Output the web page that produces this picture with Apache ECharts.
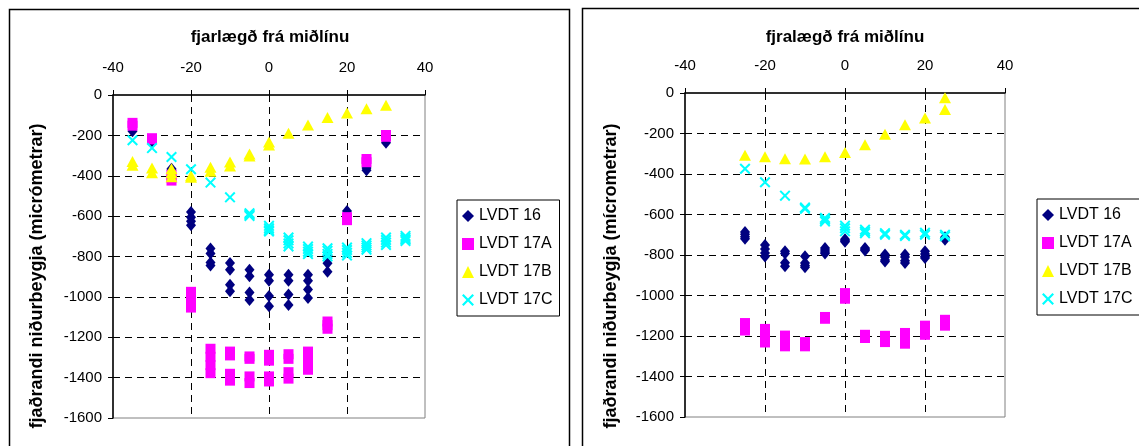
<!DOCTYPE html>
<html>
<head>
<meta charset="utf-8">
<style>
  html, body { margin: 0; padding: 0; background: #fff; }
  #chart { width: 1139px; height: 446px; }
</style>
<script src="https://cdn.jsdelivr.net/npm/echarts@6/dist/echarts.min.js"></script>
</head>
<body>
<div id="chart"></div>
<script>
// Measured deflection (micrometres) at each distance from the centreline.
// Each entry is [distance, deflection]; several readings per station.

const seriesNames = ['LVDT 16', 'LVDT 17A', 'LVDT 17B', 'LVDT 17C'];
const xTicks = [-40, 40, 20];      // min, max, step
const yTicks = [-1600, 0, 200];    // min, max, step

// ---- left panel ----
const leftLvdt16 = [
  [-35, -180], [-30, -230], [-25, -365], [-25, -372],
  [-20, -580], [-20, -605], [-20, -625], [-20, -645],
  [-15, -760], [-15, -785], [-15, -830], [-15, -845],
  [-10, -832], [-10, -866], [-10, -940], [-10, -972],
  [-5, -866], [-5, -898], [-5, -978], [-5, -1016],
  [0, -890], [0, -920], [0, -996], [0, -1046],
  [5, -890], [5, -920], [5, -988], [5, -1040],
  [10, -890], [10, -920], [10, -963], [10, -1005],
  [15, -795], [15, -833], [15, -876],
  [20, -575], [25, -362], [25, -373], [30, -237]
];
const leftLvdt17A = [
  [-35, -138], [-35, -152], [-30, -214], [-30, -220],
  [-25, -395], [-25, -410], [-25, -424],
  [-20, -975], [-20, -1000], [-20, -1027], [-20, -1053],
  [-15, -1257], [-15, -1297], [-15, -1338], [-15, -1378],
  [-10, -1271], [-10, -1290], [-10, -1381], [-10, -1415],
  [-5, -1295], [-5, -1307], [-5, -1394], [-5, -1427],
  [0, -1287], [0, -1316], [0, -1394], [0, -1419],
  [5, -1284], [5, -1307], [5, -1373], [5, -1405],
  [10, -1271], [10, -1300], [10, -1331], [10, -1361],
  [15, -1122], [15, -1140], [15, -1158],
  [20, -605], [20, -620], [25, -317], [25, -333], [30, -198], [30, -207]
];
const leftLvdt17B = [
  [-35, -330], [-35, -348], [-30, -362], [-30, -385],
  [-25, -365], [-25, -385], [-25, -405], [-20, -400], [-20, -408],
  [-15, -358], [-15, -378], [-10, -332], [-10, -352],
  [-5, -292], [-5, -302], [0, -233], [0, -248],
  [5, -190], [10, -148], [15, -111], [20, -89], [25, -68], [30, -51]
];
const leftLvdt17C = [
  [-35, -224], [-30, -263], [-25, -307], [-20, -368], [-15, -434], [-10, -507],
  [-5, -586], [-5, -593], [-5, -599],
  [0, -648], [0, -660], [0, -670], [0, -676],
  [5, -706], [5, -720], [5, -735], [5, -750],
  [10, -751], [10, -763], [10, -776], [10, -788],
  [15, -759], [15, -772], [15, -787], [15, -800],
  [20, -756], [20, -768], [20, -782], [20, -795],
  [25, -734], [25, -745], [25, -756], [25, -766],
  [30, -706], [30, -718], [30, -731], [30, -743],
  [35, -698], [35, -708], [35, -716], [35, -723]
];

// ---- right panel ----
const rightLvdt16 = [
  [-25, -686], [-25, -698], [-25, -710], [-25, -720],
  [-20, -750], [-20, -770], [-20, -790], [-20, -807],
  [-15, -782], [-15, -792], [-15, -838], [-15, -856],
  [-10, -806], [-10, -840], [-10, -852], [-10, -860],
  [-5, -765], [-5, -775], [-5, -785], [-5, -792],
  [0, -722], [0, -730], [0, -735],
  [5, -765], [5, -772], [5, -778],
  [10, -798], [10, -810], [10, -825], [10, -832],
  [15, -798], [15, -810], [15, -828], [15, -840],
  [20, -782], [20, -795], [20, -808], [20, -815],
  [25, -712], [25, -725]
];
const rightLvdt17A = [
  [-25, -1136], [-25, -1150], [-25, -1162], [-25, -1173],
  [-20, -1165], [-20, -1187], [-20, -1210], [-20, -1232],
  [-15, -1198], [-15, -1216], [-15, -1235], [-15, -1251],
  [-10, -1230], [-10, -1242], [-10, -1251],
  [-5, -1106], [-5, -1115],
  [0, -988], [0, -1002], [0, -1016],
  [5, -1194], [5, -1202], [5, -1210],
  [10, -1199], [10, -1212], [10, -1222], [10, -1230],
  [15, -1185], [15, -1203], [15, -1222], [15, -1238],
  [20, -1149], [20, -1165], [20, -1180], [20, -1194],
  [25, -1120], [25, -1135], [25, -1149]
];
const rightLvdt17B = [
  [-25, -308], [-20, -315], [-15, -325], [-10, -326], [-5, -315],
  [0, -294], [5, -255], [10, -204], [15, -157], [20, -124], [25, -23], [25, -82]
];
const rightLvdt17C = [
  [-25, -374], [-20, -441], [-15, -507], [-10, -566], [-10, -572],
  [-5, -617], [-5, -626], [-5, -634],
  [0, -655], [0, -668], [0, -683],
  [5, -675], [5, -684], [5, -692],
  [10, -692], [10, -700], [15, -700], [15, -706],
  [20, -690], [20, -700], [25, -700], [25, -708]
];

const xTitles = ['fjarlægð frá miðlínu', 'fjralægð frá miðlínu'];
const yTitles = ['fjaðrandi niðurbeygja (micrómetrar)', 'fjaðrandi niðurbeygja (mícrometrar)'];

const FONT = '"Liberation Sans", Arial, Helvetica, sans-serif';
const crossPath = 'path://M0,1.3L1.3,0L5,3.7L8.7,0L10,1.3L6.3,5L10,8.7L8.7,10L5,6.3L1.3,10L0,8.7L3.7,5Z';

const markerStyles = [
  { symbol: 'diamond', symbolSize: [10, 12], color: '#000080' },
  { symbol: 'rect', symbolSize: [10, 10], color: '#FF00FF' },
  { symbol: 'triangle', symbolSize: [12, 11], color: '#FFFF00' },
  { symbol: crossPath, symbolSize: [11, 11], color: '#00FFFF' }
];

const panels = [
  { grid: { left: 113, top: 95, width: 312, height: 323 },
    data: [leftLvdt16, leftLvdt17A, leftLvdt17B, leftLvdt17C],
    legend: { left: 457, top: 200 },
    frame: { x: 7, y: 7 }, frameW: 560,
    xTitle: { x: 270, y: 37 }, yTitle: { x: 37, y: 276 } },
  { grid: { left: 685, top: 93, width: 320, height: 324 },
    data: [rightLvdt16, rightLvdt17A, rightLvdt17B, rightLvdt17C],
    legend: { left: 1037, top: 199 },
    frame: { x: 580, y: 6 }, frameW: 600,
    xTitle: { x: 845, y: 37 }, yTitle: { x: 611, y: 276 } }
];

const dashed = { show: true, showMinLine: false, showMaxLine: false,
  lineStyle: { color: '#000', width: 1, type: [7, 5] } };

const plain = v => String(v);

const option = {
  backgroundColor: '#fff',
  animation: false,
  grid: panels.map(p => Object.assign({ show: true, borderColor: '#808080', borderWidth: 1, backgroundColor: 'transparent' }, p.grid)),
  xAxis: panels.map((p, i) => ({
    gridIndex: i, type: 'value', position: 'top',
    min: xTicks[0], max: xTicks[1], interval: xTicks[2],
    axisLine: { show: true, onZero: false, lineStyle: { color: '#000', width: 1.5 } },
    axisTick: { show: true, inside: false, length: 5, lineStyle: { color: '#000' } },
    axisLabel: { color: '#000', fontSize: 15, fontFamily: FONT, margin: 20, formatter: plain },
    splitLine: dashed
  })),
  yAxis: panels.map((p, i) => ({
    gridIndex: i, type: 'value',
    min: yTicks[0], max: yTicks[1], interval: yTicks[2],
    axisLine: { show: true, onZero: false, lineStyle: { color: '#000', width: 1.5 } },
    axisTick: { show: true, inside: false, length: 5, lineStyle: { color: '#000' } },
    axisLabel: { color: '#000', fontSize: 15, fontFamily: FONT, margin: 11, formatter: plain },
    splitLine: dashed
  })),
  legend: panels.map(p => ({
    data: seriesNames, orient: 'vertical',
    left: p.legend.left, top: p.legend.top,
    backgroundColor: '#fff', borderColor: '#000', borderWidth: 1,
    padding: [8, 7, 8, 5], itemGap: 12, itemWidth: 12, itemHeight: 12,
    selectedMode: false,
    textStyle: { color: '#000', fontSize: 16, fontFamily: FONT, lineHeight: 16 }
  })),
  series: [],
  graphic: []
};

panels.forEach((p, i) => {
  p.data.forEach((pts, s) => {
    const m = markerStyles[s];
    option.series.push({
      name: seriesNames[s], type: 'scatter',
      xAxisIndex: i, yAxisIndex: i,
      symbol: m.symbol, symbolSize: m.symbolSize,
      itemStyle: { color: m.color, opacity: 1 },
      emphasis: { disabled: true },
      z: 3 + s,
      data: pts
    });
  });
  // panel frame
  option.graphic.push({
    type: 'rect', left: p.frame.x, top: p.frame.y, silent: true, z: -10,
    shape: { width: p.frameW, height: 460 },
    style: { fill: 'none', stroke: '#000', lineWidth: 1.5 }
  });
  // axis titles
  option.graphic.push({
    type: 'text', x: p.xTitle.x, y: p.xTitle.y, silent: true,
    style: { text: xTitles[i], font: 'bold 17px ' + FONT, fill: '#000',
      textAlign: 'center', textVerticalAlign: 'middle' }
  });
  option.graphic.push({
    type: 'text', x: p.yTitle.x, y: p.yTitle.y, rotation: Math.PI / 2, silent: true,
    style: { text: yTitles[i], font: 'bold 18px ' + FONT, fill: '#000',
      textAlign: 'center', textVerticalAlign: 'middle' }
  });
});

const chart = echarts.init(document.getElementById('chart'), null, { renderer: 'canvas' });
chart.setOption(option);
</script>
</body>
</html>
